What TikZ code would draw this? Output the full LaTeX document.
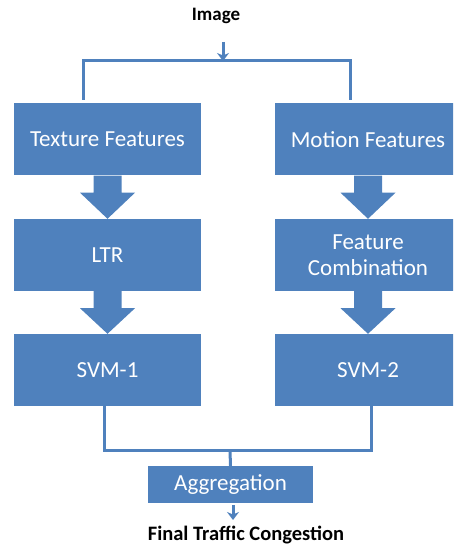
\documentclass[tikz,border=0pt]{standalone}
\usepackage{fontspec}
\setmainfont{Carlito}
\usepackage{tikz}
\usetikzlibrary{positioning,arrows.meta,calc}
\definecolor{boxblue}{RGB}{79,129,189}

\begin{document}
\begin{tikzpicture}[x=1pt, y=1pt,
  box/.style={fill=boxblue, text=white, align=center, inner sep=0pt, font=\fontsize{23}{26}\selectfont, minimum width=#1, minimum height=72pt},
  box/.default=187pt,
  caption/.style={inner sep=0pt, font=\bfseries\fontsize{#1}{#1}\selectfont},
  link/.style={boxblue, line width=3pt},
  smallarrow/.style={draw=boxblue, line width=3pt, -{Stealth[length=8pt, width=12pt, inset=2.5pt]}}]
  \useasboundingbox (0,0) rectangle (453,545);
  \clip (0,0) rectangle (453,545);
  \node[caption=19] (img) at (216,529) {Image};
  \node[box] (tf) at (107.5,405.5) {Texture Features};
  \node[box] (ltr) at (107.5,290) {LTR};
  \node[box] (svma) at (107.5,175) {SVM-1};
  \node[box] (mf) at (368,405.5) {Motion Features};
  \node[box] (fc) at (368,290) {Feature\\Combination};
  \node[box] (svmb) at (368,175) {SVM-2};
  \node[box=165pt, minimum height=37pt] (agg) at (230.5,60.5) {Aggregation};
  \node[caption=20.5] (final) at (246,10) {Final Traffic Congestion};
  % split and merge points
  \coordinate (split) at (223,484);
  \coordinate (tfin) at (83,445);
  \coordinate (mfin) at (350,445);
  \coordinate (merge) at (230,94);
  \coordinate (svmaout) at (104,139);
  \coordinate (svmbout) at (371,139);
  \coordinate (aggout) at (233,40);
  \draw[smallarrow] (aggout |- split) ++(223-233,19) -- (split);
  \draw[link] (tfin) |- (split) -| (mfin);
  \foreach \a/\b in {tf/ltr, ltr/svma, mf/fc, fc/svmb}
    \fill[boxblue] ($(\a.south)+(-14,0)$) -- ++(0,-17) -- ++(-13.5,0) -- (\b.north)
      -- ($(\a.south)+(27.5,-17)$) -- ++(-13.5,0) -- ++(0,17) -- cycle;
  \draw[link] (svmaout) |- (merge) -| (svmbout);
  \draw[link] (merge) -- (agg.north);
  \draw[smallarrow] (aggout) -- ++(0,-15);
\end{tikzpicture}
\end{document}
